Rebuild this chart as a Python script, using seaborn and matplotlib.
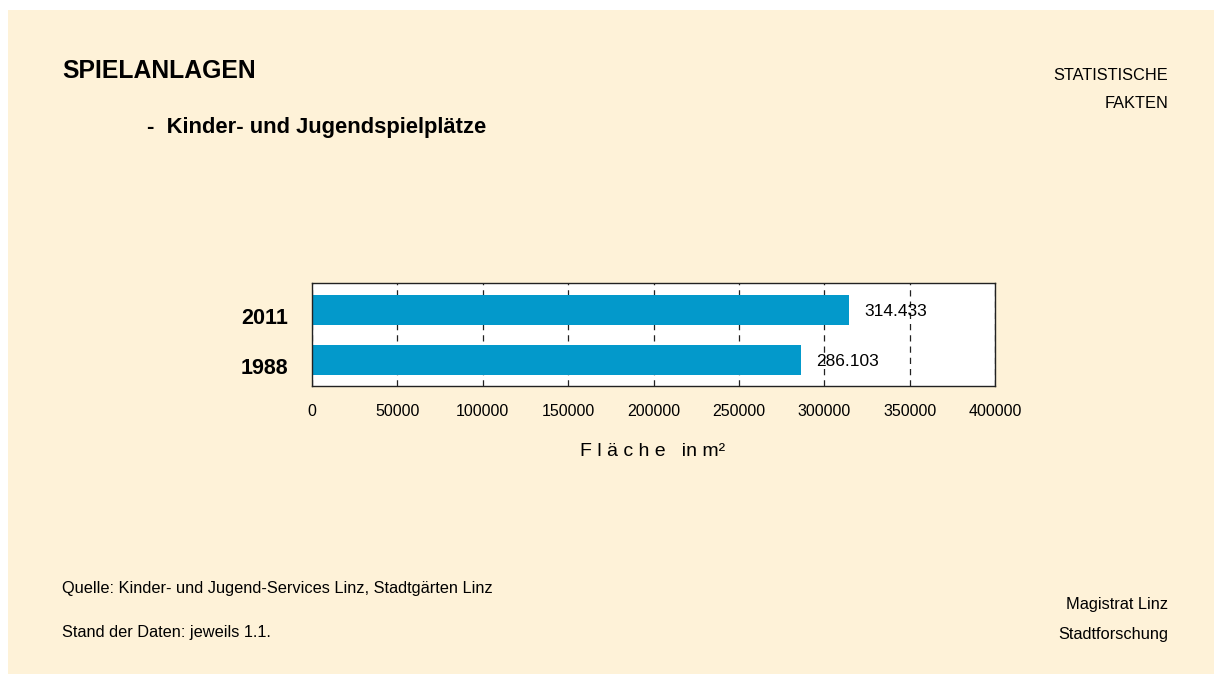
import matplotlib
matplotlib.use("Agg")
import matplotlib.pyplot as plt
import matplotlib.transforms as mtransforms
import seaborn as sns
import pandas as pd
from matplotlib.patches import Rectangle

# data
years = ["2011", "1988"]
area = [314433, 286103]
area_labels = ["314.433", "286.103"]
x_ticks = [0, 50000, 100000, 150000, 200000, 250000, 300000, 350000, 400000]

df = pd.DataFrame({"year": years, "area": area})

sns.set_theme(style="white")
plt.rcParams["font.family"] = ["Liberation Sans", "DejaVu Sans"]
plt.rcParams["text.color"] = "black"
plt.rcParams["xtick.color"] = "black"
plt.rcParams["ytick.color"] = "black"

W, H = 1222, 684
fig = plt.figure(figsize=(W / 100, H / 100), dpi=100)
fig.patch.set_facecolor("white")
# cream panel behind everything
fig.patches.append(Rectangle((8 / W, 10 / H), (1214 - 8) / W, (674 - 10) / H,
                             transform=fig.transFigure, facecolor="#FEF2D8",
                             edgecolor="none", zorder=-10))

# axes box in pixels: x 312..995, y 283..386
ax = fig.add_axes([312 / W, 1 - 386 / H, (995 - 312) / W, (386 - 283) / H])
ax.set_facecolor("white")
sns.barplot(data=df, y="year", x="area", orient="h", color="#0399CB",
            width=0.6, saturation=1, linewidth=0, ax=ax, zorder=3)
ax.set_xlim(0, 400000)
ax.set_ylim(1.52, -0.54)
ax.set_xticks(x_ticks)
ax.set_xticklabels([str(t) for t in x_ticks], fontsize=11.5)
ax.tick_params(axis="x", length=0, pad=13)
ax.tick_params(axis="y", length=0, pad=17)
shift = mtransforms.ScaledTranslation(0, -6 / 100, fig.dpi_scale_trans)
for lbl in ax.get_yticklabels():
    lbl.set_fontsize(15.5)
    lbl.set_fontweight("bold")
    lbl.set_transform(lbl.get_transform() + shift)
ax.set_xlabel("")
ax.set_ylabel("")
ax.grid(axis="x", color="#222222", linestyle=(0, (5, 4)), linewidth=0.9)
ax.grid(axis="y", visible=False)
ax.set_axisbelow(True)
for s in ax.spines.values():
    s.set_visible(True)
    s.set_color("#222222")
    s.set_linewidth(1.0)
    s.set_zorder(5)

for i, (v, lab) in enumerate(zip(area, area_labels)):
    ax.text(v + 9000, i, lab, ha="left", va="center_baseline", fontsize=12.5, zorder=4)

fig.text(653 / W, 1 - 451 / H, "F l ä c h e   in m²", ha="center", va="center", fontsize=14)

fig.text(62 / W, 1 - 71 / H, "SPIELANLAGEN", ha="left", va="center",
         fontsize=17.8, fontweight="bold")
fig.text(147 / W, 1 - 127 / H, "-  Kinder- und Jugendspielplätze", ha="left",
         va="center", fontsize=15.8, fontweight="bold")
fig.text(1168 / W, 1 - 75 / H, "STATISTISCHE", ha="right", va="center", fontsize=11.8)
fig.text(1168 / W, 1 - 104 / H, "FAKTEN", ha="right", va="center", fontsize=11.8)
fig.text(62 / W, 1 - 588 / H, "Quelle: Kinder- und Jugend-Services Linz, Stadtgärten Linz",
         ha="left", va="center", fontsize=11.8)
fig.text(62 / W, 1 - 633 / H, "Stand der Daten: jeweils 1.1.", ha="left",
         va="center", fontsize=11.8)
fig.text(1168 / W, 1 - 605 / H, "Magistrat Linz", ha="right", va="center", fontsize=11.8)
fig.text(1168 / W, 1 - 635 / H, "Stadtforschung", ha="right", va="center", fontsize=11.8)

fig.savefig("out.png", dpi=100)
